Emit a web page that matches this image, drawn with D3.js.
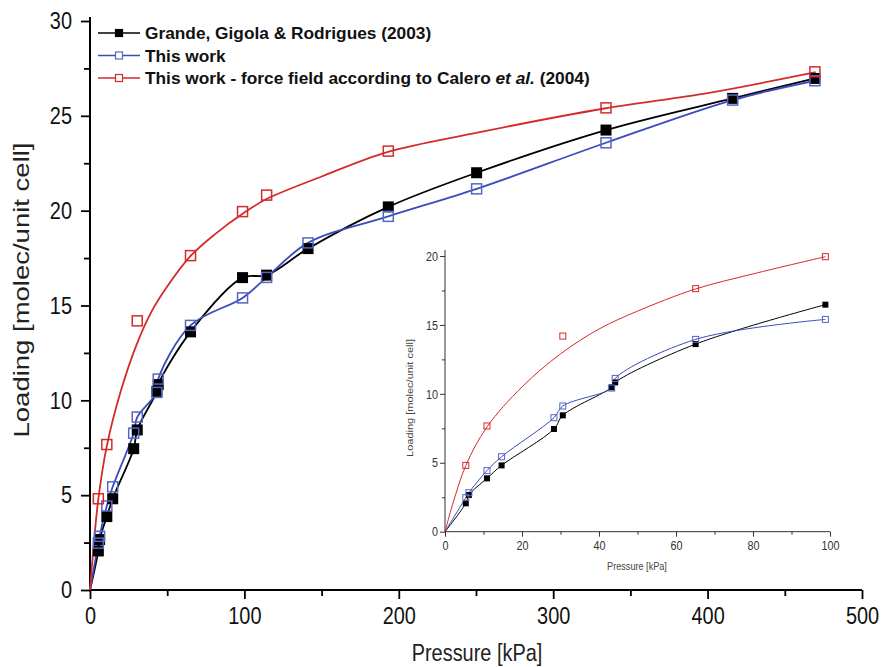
<!DOCTYPE html>
<html>
<head>
<meta charset="utf-8">
<script src="https://cdn.jsdelivr.net/npm/d3@7"></script>
<style>
  body { margin: 0; background: #fff; }
  svg text { font-family: "Liberation Sans", Arial, sans-serif; }
</style>
</head>
<body>
<div id="chart"></div>
<script>
// pressures (kPa) shared by experiment and simulation
var pressure = [5.4, 6.2, 10.9, 14.7, 28.3, 30.6, 43.3, 44.2, 65.1, 98.8, 114.4, 141.2, 193.2, 250.4, 334.2, 416.2, 469.5];
// Grande, Gigola & Rodrigues (2003)
var grande = [2.06, 2.66, 3.87, 4.81, 7.45, 8.44, 10.47, 10.83, 13.61, 16.47, 16.6, 18.0, 20.2, 22.0, 24.25, 25.92, 26.97];
// This work
var thisWork = [2.47, 2.83, 4.43, 5.44, 8.27, 9.12, 10.42, 11.12, 13.95, 15.40, 16.48, 18.3, 19.7, 21.15, 23.58, 25.83, 26.85];
// This work - Calero force field
var caleroP = [5.4, 10.9, 30.6, 65.1, 98.8, 114.4, 193.2, 334.2, 469.5];
var calero = [4.81, 7.67, 14.19, 17.63, 19.95, 20.82, 23.14, 25.42, 27.32];
// fitted curve for the Calero series
var caleroFitP = [0, 2, 5.4, 10.9, 20, 30, 40, 50, 65, 80, 100, 114, 150, 193, 250, 334, 400, 470];
var caleroFit = [0, 2.0, 4.8, 7.6, 10.5, 12.9, 14.7, 16.0, 17.6, 18.7, 19.9, 20.6, 21.8, 23.1, 24.1, 25.4, 26.2, 27.3];

var xTicks = [0, 100, 200, 300, 400, 500];
var yTicks = [0, 5, 10, 15, 20, 25, 30];
var insetXTicks = [0, 20, 40, 60, 80, 100];
var insetYTicks = [0, 5, 10, 15, 20];

var legendLabels = ["Grande, Gigola & Rodrigues (2003)", "This work", "This work - force field according to Calero "];

var red = "#d42a2b", blue = "#3a4bbb", blueMark = "#5566c4";
// the picture is stretched vertically, so text glyphs look narrow
var sx = 0.83;

var svg = d3.select("#chart").append("svg")
    .attr("width", 881)
    .attr("height", 667);

var x = d3.scaleLinear().domain([0, 500]).range([90, 862]);
var y = d3.scaleLinear().domain([0, 30]).range([590, 21]);

function pts(px, py) { return px.map((p, i) => [p, py[i]]); }

var blackData = pts(pressure, grande);
var blueData = pts(pressure, thisWork);
var redData = pts(caleroP, calero);
var redFit = pts(caleroFitP, caleroFit);

// ---- main axes
var xAxis = svg.append("g")
    .attr("transform", "translate(0,590)")
    .call(d3.axisBottom(x).tickValues(d3.range(0, 501, 50)).tickSize(8).tickFormat(d => xTicks.includes(d) ? d : ""));
xAxis.selectAll(".tick line").attr("y2", d => d % 100 === 0 ? 9 : 6).attr("stroke-width", 1.8);
xAxis.select(".domain").attr("stroke-width", 2).attr("d", "M90,0H862");
xAxis.selectAll("text").attr("font-size", 24).attr("dy", "0.95em").attr("fill", "#111")
    .attr("transform", `scale(${sx},1)`);

var yAxis = svg.append("g")
    .attr("transform", "translate(90,0)")
    .call(d3.axisLeft(y).tickValues(d3.range(0, 30.1, 2.5)).tickSize(8).tickFormat(d => yTicks.includes(d) ? d : ""));
yAxis.selectAll(".tick line").attr("x2", d => d % 5 === 0 ? -9 : -6).attr("stroke-width", 1.8);
yAxis.select(".domain").attr("stroke-width", 2).attr("d", "M0,17V590");
yAxis.selectAll("text").attr("font-size", 24).attr("x", -18 / sx).attr("fill", "#111")
    .attr("transform", `scale(${sx},1)`);

svg.append("text")
    .attr("transform", `translate(477,661) scale(${sx},1)`)
    .attr("text-anchor", "middle")
    .attr("font-size", 24)
    .attr("fill", "#222")
    .text("Pressure [kPa]");

svg.append("text")
    .attr("transform", "translate(29,290) rotate(-90) scale(1,0.78)")
    .attr("text-anchor", "middle")
    .attr("font-size", 27.5)
    .attr("fill", "#222")
    .text("Loading [molec/unit cell]");

// ---- main series
var line = d3.line().x(d => x(d[0])).y(d => y(d[1])).curve(d3.curveCatmullRom.alpha(0.5));

svg.append("path").datum([[0, 0]].concat(blackData)).attr("d", line)
    .attr("fill", "none").attr("stroke", "#000").attr("stroke-width", 1.8);
svg.append("path").datum([[0, 0]].concat(blueData)).attr("d", line)
    .attr("fill", "none").attr("stroke", blue).attr("stroke-width", 1.8);
svg.append("path").datum(redFit).attr("d", line)
    .attr("fill", "none").attr("stroke", red).attr("stroke-width", 1.8);

var s = 11;
svg.append("g").selectAll("rect").data(blackData).enter().append("rect")
    .attr("x", d => x(d[0]) - s / 2).attr("y", d => y(d[1]) - s / 2)
    .attr("width", s).attr("height", s).attr("fill", "#000");
svg.append("g").selectAll("rect").data(blueData).enter().append("rect")
    .attr("x", d => x(d[0]) - s / 2 + 0.5).attr("y", d => y(d[1]) - s / 2 + 0.5)
    .attr("width", s - 1).attr("height", s - 1)
    .attr("fill", "none").attr("stroke", blueMark).attr("stroke-width", 1.5);
svg.append("g").selectAll("rect").data(redData).enter().append("rect")
    .attr("x", d => x(d[0]) - s / 2 + 0.5).attr("y", d => y(d[1]) - s / 2 + 0.5)
    .attr("width", s - 1).attr("height", s - 1)
    .attr("fill", "none").attr("stroke", red).attr("stroke-width", 1.5);

// ---- legend
var legendColors = ["#000", blue, red];
var legend = svg.append("g");
legendLabels.forEach(function(lbl, i) {
    var ly = 33 + i * 22.5;
    legend.append("line").attr("x1", 98).attr("x2", 140).attr("y1", ly).attr("y2", ly)
        .attr("stroke", legendColors[i]).attr("stroke-width", 1.6);
    legend.append("rect").attr("x", 115.5).attr("y", ly - 3.5).attr("width", 7).attr("height", 7)
        .attr("fill", i === 0 ? "#000" : "#fff")
        .attr("stroke", i === 0 ? "#000" : (i === 1 ? blueMark : red)).attr("stroke-width", 1.2);
    var t = legend.append("text").attr("x", 145).attr("y", ly + 6)
        .attr("font-size", 17.3).attr("font-weight", "bold").attr("fill", "#111");
    t.append("tspan").text(lbl);
    if (i === 2) {
        t.append("tspan").attr("font-style", "italic").text("et al.");
        t.append("tspan").text(" (2004)");
    }
});

// ---- inset
var ix = d3.scaleLinear().domain([0, 100]).range([445, 830]);
var iy = d3.scaleLinear().domain([0, 20]).range([531.7, 256]);
var inset = svg.append("g");

var ixAxis = inset.append("g").attr("transform", "translate(0,531.7)")
    .call(d3.axisBottom(ix).tickValues(d3.range(0, 101, 10)).tickSize(4)
        .tickFormat(d => insetXTicks.includes(d) ? d : ""));
ixAxis.selectAll(".tick line").attr("y2", d => d % 20 === 0 ? 5 : 3).attr("stroke", "#333");
ixAxis.select(".domain").attr("stroke", "#333").attr("d", "M445,0H830");
ixAxis.selectAll("text").attr("font-size", 13).attr("fill", "#333").attr("dy", "0.85em")
    .attr("transform", `scale(${sx},1)`);

var iyAxis = inset.append("g").attr("transform", "translate(445,0)")
    .call(d3.axisLeft(iy).tickValues(d3.range(0, 20.1, 2.5)).tickSize(4)
        .tickFormat(d => insetYTicks.includes(d) ? d : ""));
iyAxis.selectAll(".tick line").attr("x2", d => d % 5 === 0 ? -5 : -3).attr("stroke", "#333");
iyAxis.select(".domain").attr("stroke", "#333").attr("d", "M0,250V531.7");
iyAxis.selectAll("text").attr("font-size", 13).attr("fill", "#333").attr("x", -7 / sx)
    .attr("transform", `scale(${sx},1)`);

inset.append("text").attr("transform", `translate(637,570) scale(${sx},1)`).attr("text-anchor", "middle")
    .attr("font-size", 11).attr("fill", "#444").text("Pressure [kPa]");
inset.append("text").attr("transform", "translate(413,398) rotate(-90) scale(1,0.8)").attr("text-anchor", "middle")
    .attr("font-size", 11).attr("fill", "#444").text("Loading [molec/unit cell]");

var iline = d3.line().x(d => ix(d[0])).y(d => iy(d[1])).curve(d3.curveCatmullRom.alpha(0.5));
var inBlack = [[0, 0]].concat(blackData.filter(d => d[0] < 100));
var inBlue = [[0, 0]].concat(blueData.filter(d => d[0] < 100));
var inRedFit = redFit.filter(d => d[0] < 100).concat([[98.8, 19.95]]);

inset.append("path").datum(inBlack).attr("d", iline).attr("fill", "none").attr("stroke", "#000").attr("stroke-width", 1);
inset.append("path").datum(inBlue).attr("d", iline).attr("fill", "none").attr("stroke", blue).attr("stroke-width", 1);
inset.append("path").datum(inRedFit).attr("d", iline).attr("fill", "none").attr("stroke", red).attr("stroke-width", 1);

var m = 6;
inset.append("g").selectAll("rect").data(inBlack.slice(1)).enter().append("rect")
    .attr("x", d => ix(d[0]) - m / 2).attr("y", d => iy(d[1]) - m / 2)
    .attr("width", m).attr("height", m).attr("fill", "#000");
inset.append("g").selectAll("rect").data(inBlue.slice(1)).enter().append("rect")
    .attr("x", d => ix(d[0]) - m / 2).attr("y", d => iy(d[1]) - m / 2)
    .attr("width", m).attr("height", m).attr("fill", "none").attr("stroke", blueMark).attr("stroke-width", 1);
inset.append("g").selectAll("rect").data(redData.filter(d => d[0] < 100)).enter().append("rect")
    .attr("x", d => ix(d[0]) - m / 2).attr("y", d => iy(d[1]) - m / 2)
    .attr("width", m).attr("height", m).attr("fill", "none").attr("stroke", red).attr("stroke-width", 1);
</script>
</body>
</html>
